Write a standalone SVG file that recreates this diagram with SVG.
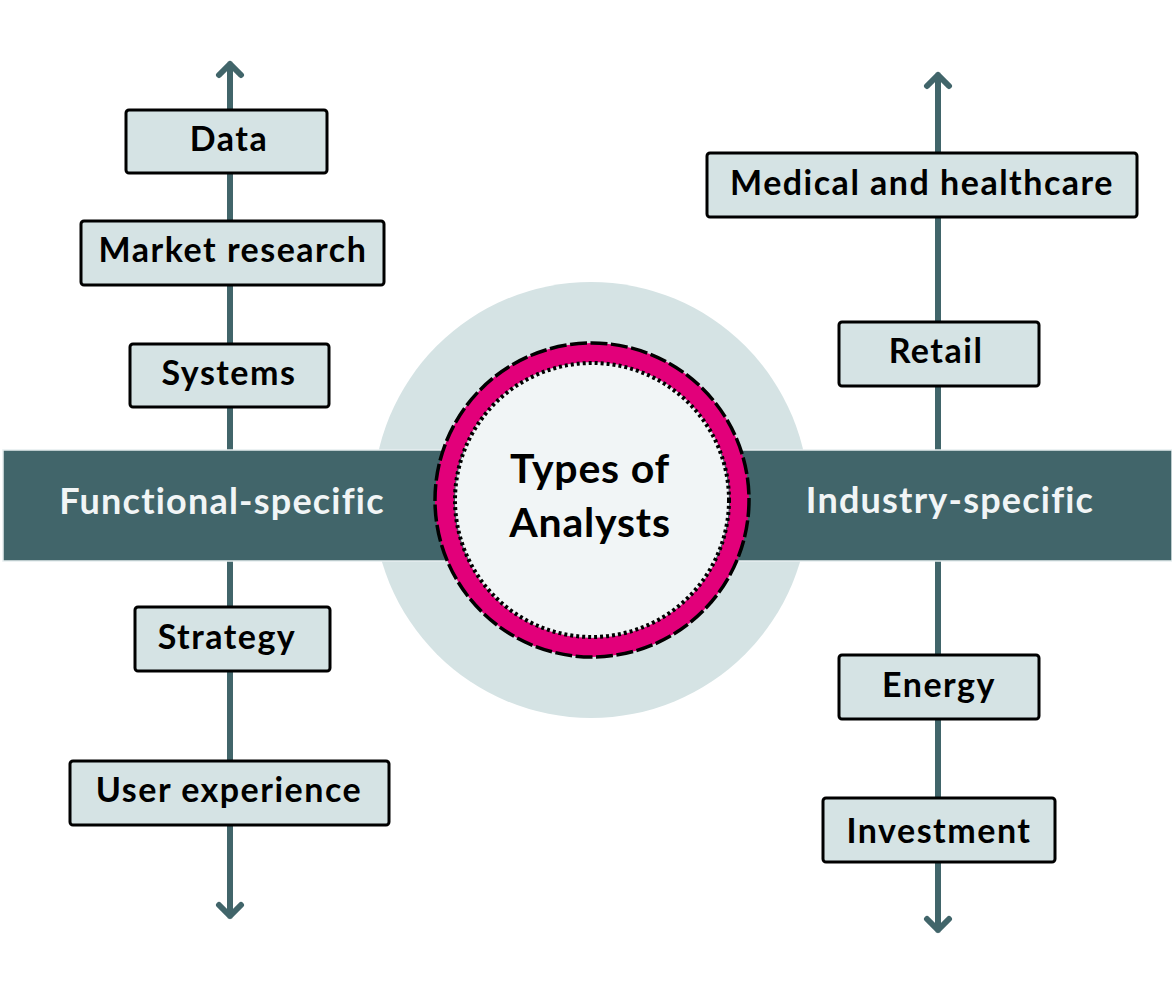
<svg xmlns="http://www.w3.org/2000/svg" width="1172" height="1000" viewBox="0 0 1172 1000">
<style>
.axis{stroke:#41656a;stroke-width:6;fill:none;stroke-linecap:round;stroke-linejoin:round}
.box{fill:#d5e3e4;stroke:#000;stroke-width:3}
.lbl{font-family:Lato,"Open Sans",sans-serif;font-weight:700;font-size:34px;letter-spacing:1.5px;fill:#000;text-anchor:middle;dominant-baseline:central}
.bar{font-family:Lato,"Open Sans",sans-serif;font-weight:700;font-size:36px;letter-spacing:1.2px;fill:#f1f5f6;text-anchor:middle;dominant-baseline:central}
.title{font-family:Lato,"Open Sans",sans-serif;font-weight:700;font-size:41px;letter-spacing:0.8px;fill:#000;text-anchor:middle}
</style>
<rect width="1172" height="1000" fill="#fff"/>
<g id="connectors">
<path class="axis" d="M230 64 V916 M219 75 L230 64 L241 75 M219 905 L230 916 L241 905"/>
<path class="axis" d="M938 75 V930 M927 86 L938 75 L949 86 M927 919 L938 930 L949 919"/>
</g>
<g id="backdrop">
<circle cx="591" cy="500" r="218" fill="#d5e3e4"/>
<rect x="3" y="450" width="1169" height="111" fill="#41656a" stroke="#e6eeef" stroke-width="1.5"/>
</g>
<g id="functional-specific"><text class="bar" x="222" y="500">Functional-specific</text></g>
<g id="industry-specific"><text class="bar" x="950" y="499">Industry-specific</text></g>
<g id="center">
<circle cx="592" cy="500" r="147.5" fill="none" stroke="#e2007a" stroke-width="19"/>
<circle cx="592" cy="500" r="157" fill="none" stroke="#000" stroke-width="3.5" stroke-dasharray="17 3.5"/>
<circle cx="592" cy="500" r="137" fill="#f1f5f6" stroke="#000" stroke-width="4" stroke-dasharray="3 3"/>
<text class="title" x="590" y="483">Types of</text>
<text class="title" x="590" y="537">Analysts</text>
</g>
<g id="data"><rect class="box" x="126" y="110" width="201" height="63" rx="3"/><text class="lbl" x="229" y="137">Data</text></g>
<g id="market-research"><rect class="box" x="81" y="221" width="303" height="64" rx="3"/><text class="lbl" x="233" y="248">Market research</text></g>
<g id="systems"><rect class="box" x="130" y="344" width="199" height="63" rx="3"/><text class="lbl" x="229" y="371">Systems</text></g>
<g id="strategy"><rect class="box" x="135" y="607" width="195" height="64" rx="3"/><text class="lbl" x="227" y="635">Strategy</text></g>
<g id="user-experience"><rect class="box" x="70" y="761" width="319" height="64" rx="3"/><text class="lbl" x="229" y="788">User experience</text></g>
<g id="medical"><rect class="box" x="707" y="153" width="430" height="64" rx="3"/><text class="lbl" x="922" y="181">Medical and healthcare</text></g>
<g id="retail"><rect class="box" x="839" y="322" width="200" height="64" rx="3"/><text class="lbl" x="936" y="349">Retail</text></g>
<g id="energy"><rect class="box" x="839" y="655" width="200" height="64" rx="3"/><text class="lbl" x="939" y="683">Energy</text></g>
<g id="investment"><rect class="box" x="823" y="798" width="232" height="64" rx="3"/><text class="lbl" x="939" y="829">Investment</text></g>
</svg>
